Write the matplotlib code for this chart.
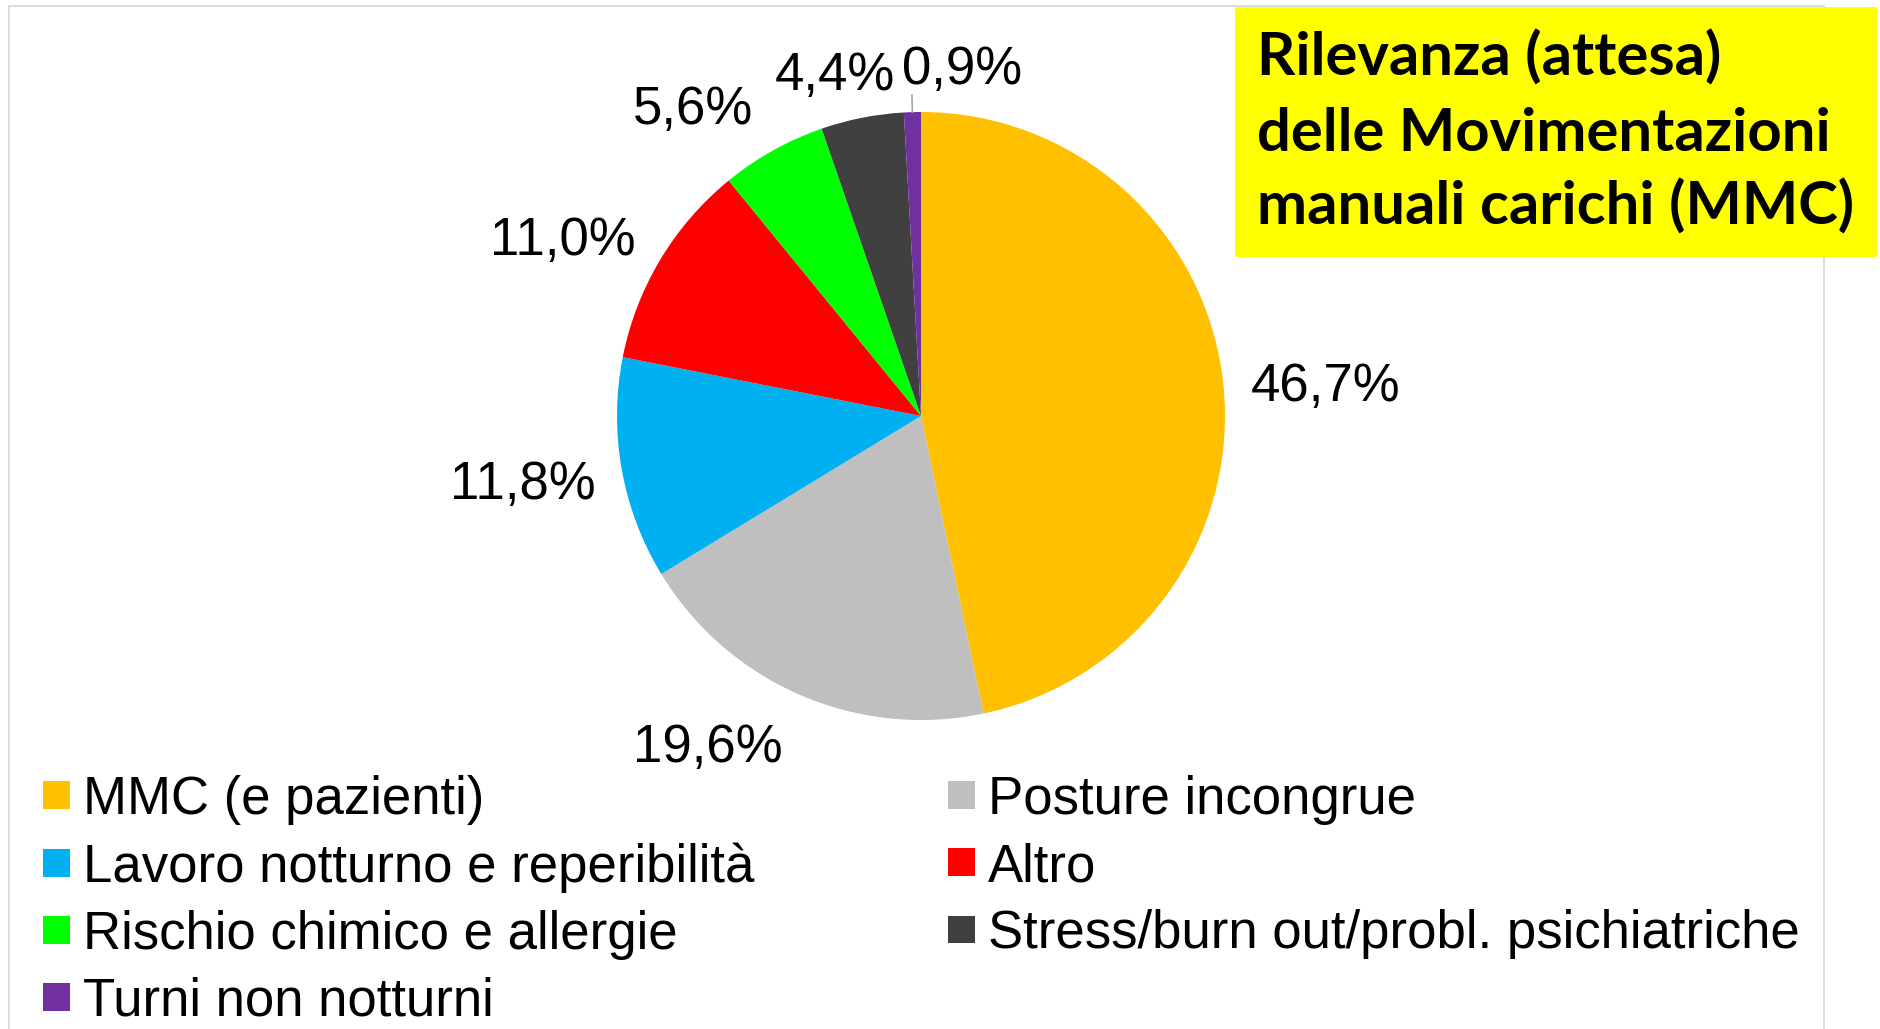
import matplotlib
matplotlib.use('Agg')
import matplotlib.pyplot as plt
from matplotlib.patches import Rectangle
import numpy as np

# ---------------- data ----------------
categories = ["MMC (e pazienti)", "Posture incongrue", "Lavoro notturno e reperibilità",
              "Altro", "Rischio chimico e allergie",
              "Stress/burn out/probl. psichiatriche", "Turni non notturni"]
values = [46.7, 19.6, 11.8, 11.0, 5.6, 4.4, 0.9]
colors = ["#FFC000", "#BFBFBF", "#00B0F0", "#FF0000", "#00FF00", "#404040", "#7030A0"]
title_lines = ["Rilevanza (attesa)", "delle Movimentazioni", "manuali carichi (MMC)"]

# ---------------- layout ----------------
W, H, DPI = 1880, 1029, 100
fig = plt.figure(figsize=(W / DPI, H / DPI), dpi=DPI)
fig.patch.set_facecolor('white')


def fx(px):
    return px / W


def fy(py):
    return 1 - py / H


FONT = 'Liberation Sans'
FS = 38

# outer light border
fig.add_artist(Rectangle((fx(9), fy(1045)), fx(1824) - fx(9), fy(6) - fy(1045),
                         transform=fig.transFigure, fill=False,
                         edgecolor='#D9D9D9', linewidth=1.3, zorder=0))

# pie
cx, cy, R = 921, 416, 304
ax = fig.add_axes([fx(cx - R), fy(cy + R), 2 * R / W, 2 * R / H])
wedges, _ = ax.pie(values, colors=colors, startangle=90, counterclock=False,
                   radius=1, wedgeprops=dict(linewidth=0))
ax.set_xlim(-1, 1)
ax.set_ylim(-1, 1)
ax.set_aspect('equal')
ax.axis('off')

# data labels (outside end), offsets in pixels from the wedge's outer mid point
label_offsets = [(27, -16), (-18, -67), (-26, -30), (-25, 5), (-20, 27), (33, 28), (-10, 28)]
label_ha = ['left', 'right', 'right', 'right', 'right', 'right', 'left']
for w, v, off, ha in zip(wedges, values, label_offsets, label_ha):
    mid = np.deg2rad((w.theta1 + w.theta2) / 2)
    x, y = np.cos(mid), np.sin(mid)
    txt = f"{v:.1f}".replace('.', ',') + '%'
    ax.annotate(txt, xy=(x, y), xycoords='data', xytext=off, textcoords='offset pixels',
                ha=ha, va='baseline', fontsize=FS, family=FONT, color='black',
                annotation_clip=False)

# leader line for the smallest slice
w = wedges[-1]
mid = np.deg2rad((w.theta1 + w.theta2) / 2)
ax.plot([np.cos(mid), 1.056 * np.cos(mid)], [np.sin(mid), 1.056 * np.sin(mid)],
        color='#A6A6A6', linewidth=1.2, clip_on=False)

# legend (row-major order as in the original -> column-major for matplotlib)
order = [0, 2, 4, 6, 1, 3, 5]
leg = fig.legend([wedges[i] for i in order], [categories[i] for i in order],
                 ncol=2, loc='upper left', bbox_to_anchor=(fx(43), fy(775)),
                 frameon=False, borderpad=0, borderaxespad=0,
                 prop={'family': FONT, 'size': FS},
                 handlelength=0.51, handleheight=0.438, handletextpad=0.24,
                 labelspacing=0.325, columnspacing=3.68)

# title box
fig.add_artist(Rectangle((fx(1235), fy(257)), fx(1877) - fx(1235), fy(7) - fy(257),
                         transform=fig.transFigure, facecolor='#FFFF00',
                         edgecolor='none', zorder=1))
probe = fig.text(0, 0, title_lines[1], fontsize=40, family='Lato', weight='bold')
fig.canvas.draw()
pw = probe.get_window_extent().width
probe.remove()
tfs = 40 * 573 / pw
for line, base in zip(title_lines, [76, 151, 225]):
    fig.text(fx(1257), fy(base), line, fontsize=tfs, family='Lato', weight='bold',
             ha='left', va='baseline', color='black', zorder=2)

fig.savefig('out.png', dpi=DPI, facecolor='white')
